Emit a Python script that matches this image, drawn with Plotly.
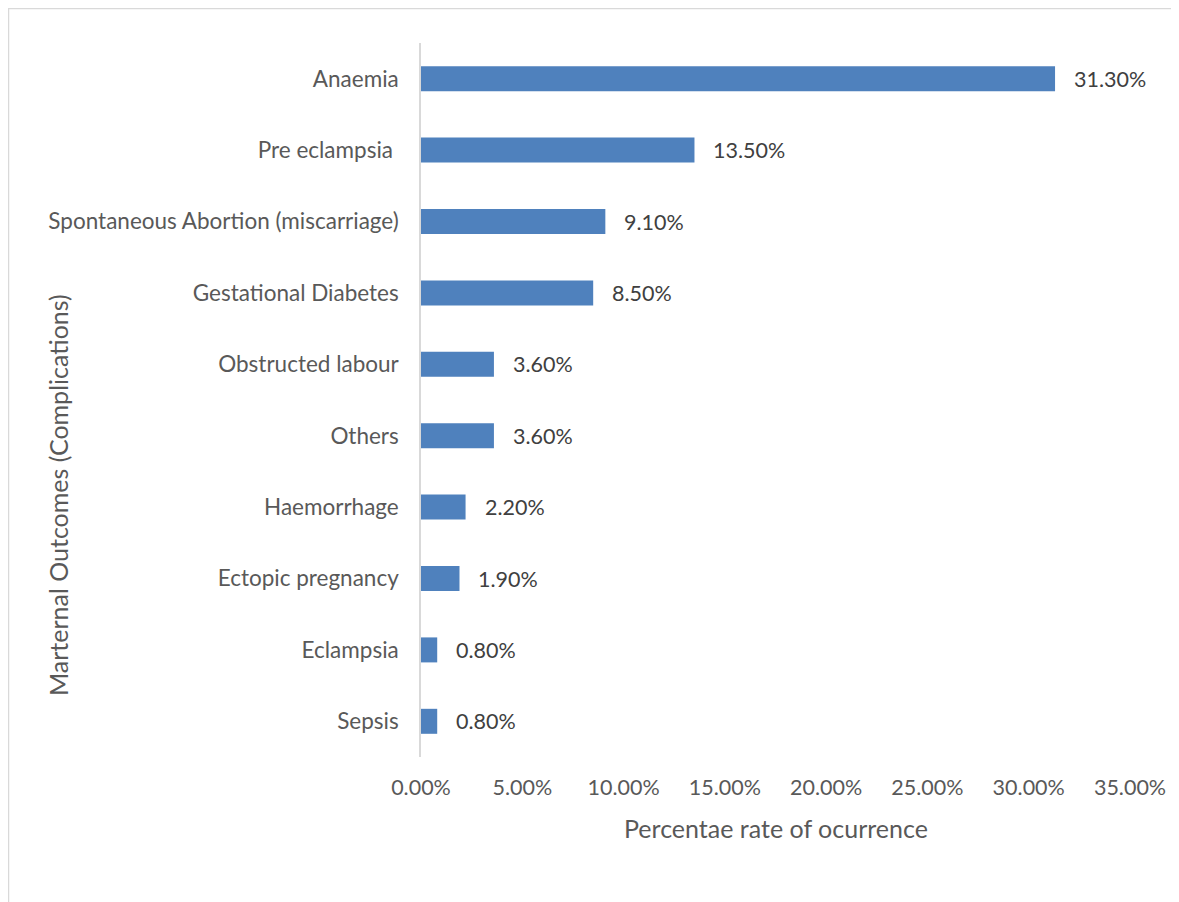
import plotly.graph_objects as go

categories = ["Anaemia", "Pre eclampsia ", "Spontaneous Abortion (miscarriage)",
              "Gestational Diabetes", "Obstructed labour", "Others", "Haemorrhage",
              "Ectopic pregnancy", "Eclampsia", "Sepsis"]
values = [31.3, 13.5, 9.1, 8.5, 3.6, 3.6, 2.2, 1.9, 0.8, 0.8]
x_ticks = [0, 5, 10, 15, 20, 25, 30, 35]
x_tick_labels = ["0.00%", "5.00%", "10.00%", "15.00%", "20.00%", "25.00%", "30.00%", "35.00%"]

FONT = "Lato"
TICK_COLOR = "#595959"
BAR_COLOR = "#4F81BD"

W, H = 1171, 894
L, R, T, B = 413, 49, 35, 145
PW, PH = W - L - R, H - T - B

fig = go.Figure()
fig.add_trace(go.Bar(
    y=categories, x=values, orientation="h",
    marker=dict(color=BAR_COLOR, line=dict(width=0)),
    width=0.35, hoverinfo="x+y",
))

for c, v in zip(categories, values):
    fig.add_annotation(x=v, y=c, xref="x", yref="y", text=f"{v:.2f}%",
                       showarrow=False, xanchor="left", xshift=17,
                       font=dict(family=FONT, size=21.5, color="#404040"))

fig.update_layout(
    width=W, height=H,
    margin=dict(l=L, r=R, t=T, b=B),
    paper_bgcolor="white", plot_bgcolor="white",
    showlegend=False,
    font=dict(family=FONT, size=21.5, color=TICK_COLOR),
    xaxis=dict(range=[0, 35], tickvals=x_ticks, ticktext=x_tick_labels,
               showgrid=False, zeroline=False, showline=False,
               ticks="", ticklabelstandoff=15,
               tickfont=dict(family=FONT, size=21.5, color=TICK_COLOR)),
    yaxis=dict(autorange="reversed", showgrid=False, zeroline=False,
               showline=True, linecolor="#d9d9d9", linewidth=1.5,
               ticks="", ticklabelstandoff=16,
               tickfont=dict(family=FONT, size=22.5, color=TICK_COLOR)),
    shapes=[
        dict(type="line", xref="paper", yref="paper", x0=-L / PW, x1=1.2,
             y0=1 + (T - 0.5) / PH, y1=1 + (T - 0.5) / PH,
             line=dict(color="#d9d9d9", width=1.5)),
        dict(type="line", xref="paper", yref="paper", x0=-(L - 0.5) / PW, x1=-(L - 0.5) / PW,
             y0=1 + T / PH, y1=-0.3, line=dict(color="#d9d9d9", width=1.5)),
    ],
    annotations=list(fig.layout.annotations) + [
        dict(text="Marternal Outcomes (Complications)", xref="paper", yref="paper",
             x=-(L - 50) / PW, y=(PH + T - 487) / PH, textangle=-90, showarrow=False,
             xanchor="center", yanchor="middle",
             font=dict(family=FONT, size=25, color=TICK_COLOR)),
        dict(text="Percentae rate of ocurrence", xref="paper", yref="paper",
             x=(768 - L) / PW, y=(PH + T - 820) / PH, showarrow=False,
             xanchor="center", yanchor="middle",
             font=dict(family=FONT, size=25, color=TICK_COLOR)),
    ],
)

fig.write_html("out.html")
